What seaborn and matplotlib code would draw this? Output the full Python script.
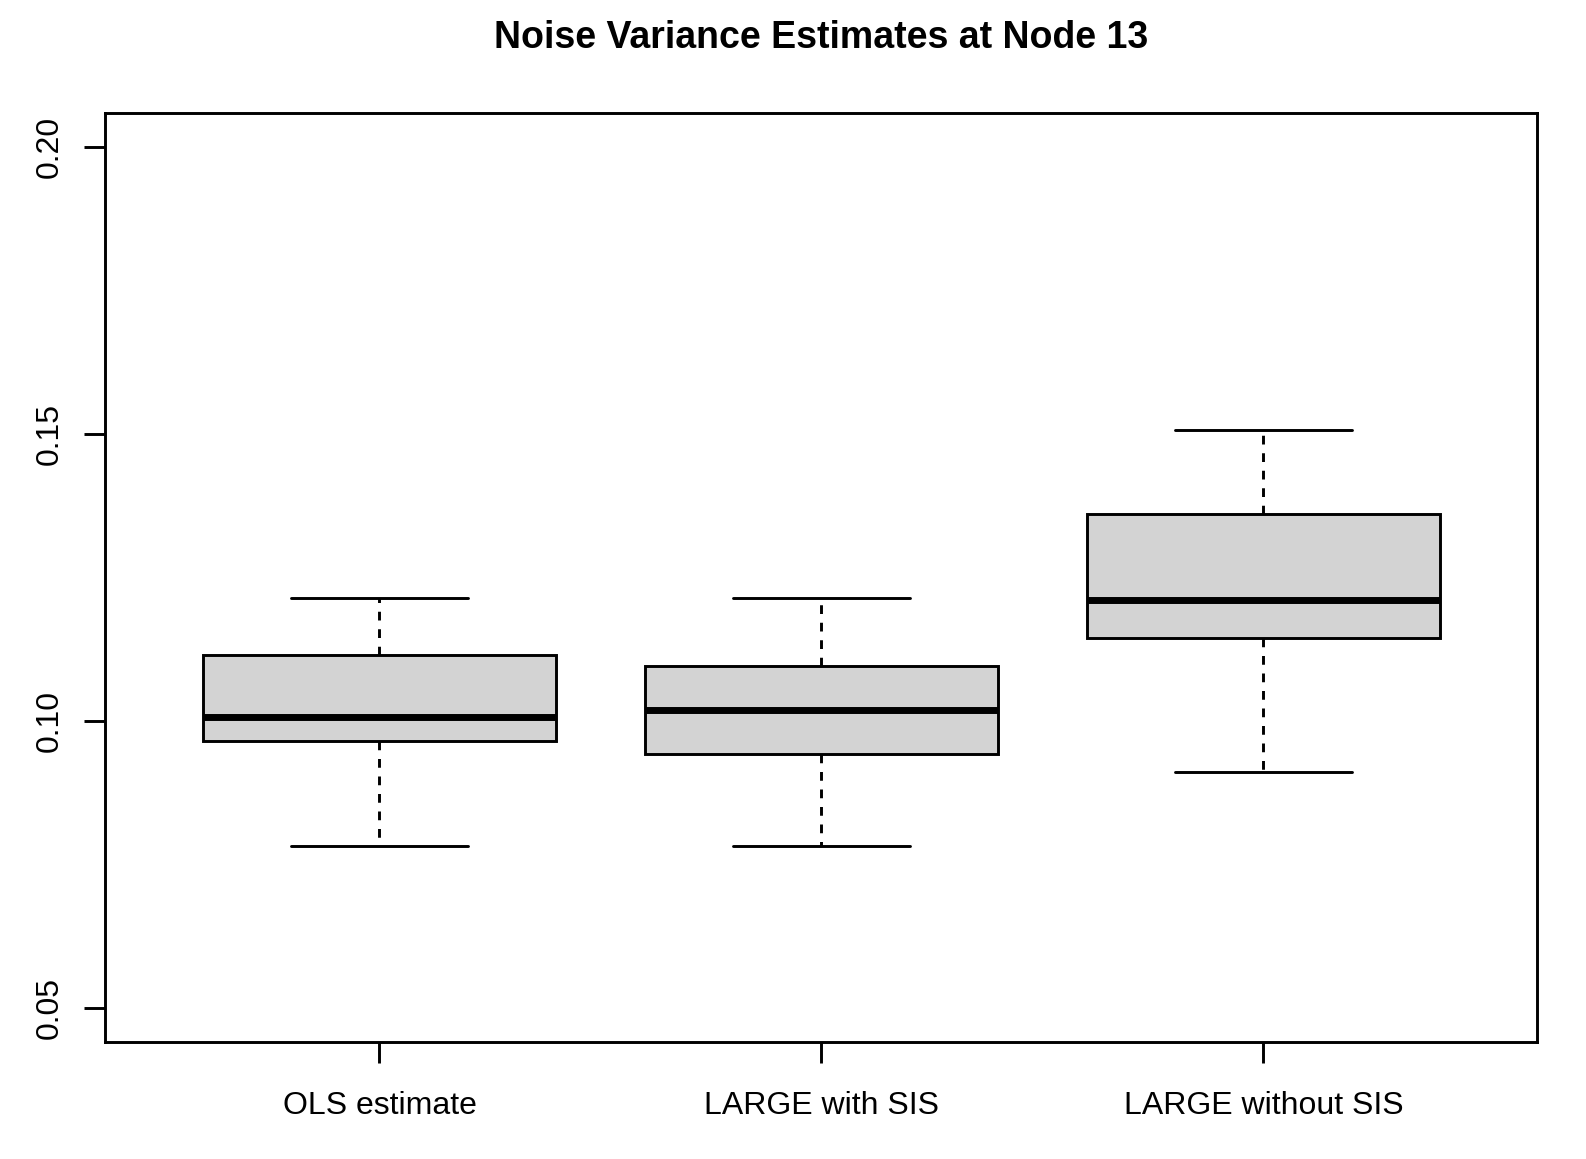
import numpy as np
import pandas as pd
import matplotlib
matplotlib.use("Agg")
import matplotlib.pyplot as plt
import seaborn as sns

# five-number summaries (min, q1, median, q3, max)
methods = ["OLS estimate", "LARGE with SIS", "LARGE without SIS"]
ols_vals = [0.0781, 0.0964, 0.1006, 0.1114, 0.1214]
sis_vals = [0.0781, 0.0942, 0.1018, 0.1095, 0.1214]
nosis_vals = [0.0911, 0.1144, 0.1211, 0.1360, 0.1506]
y_ticks = [0.05, 0.10, 0.15, 0.20]
y_tick_labels = ["0.05", "0.10", "0.15", "0.20"]

df = pd.DataFrame({
    "method": np.repeat(methods, 5),
    "value": ols_vals + sis_vals + nosis_vals,
})

sns.set_theme(style="ticks")
plt.rcParams["font.family"] = ["Liberation Sans", "DejaVu Sans"]

fig = plt.figure(figsize=(15.86, 11.59), dpi=100)
ax_left, ax_width = 0.0665, 0.9029
ax = fig.add_axes([ax_left, 0.1009, ax_width, 0.8019])

lw = 2.1
sns.boxplot(
    data=df, x="method", y="value", order=methods, ax=ax,
    color="#D3D3D3", saturation=1, width=0.8, whis=np.inf,
    linecolor="black", linewidth=lw, fliersize=0,
    medianprops={"linewidth": 5.0, "color": "black"},
    whiskerprops={"linestyle": (0, (3.0, 3.0)), "linewidth": lw, "color": "black"},
    capprops={"linewidth": lw, "color": "black"},
    boxprops={"edgecolor": "black", "linewidth": lw},
)

ax.set_xlim(-0.62, 2.62)
ax.set_ylim(0.044, 0.206)
ax.set_yticks(y_ticks)
ax.set_yticklabels(y_tick_labels, rotation=90, va="center")
ax.set_xlabel("")
ax.set_ylabel("")

for side in ["top", "right", "bottom", "left"]:
    ax.spines[side].set_visible(True)
    ax.spines[side].set_linewidth(lw)
    ax.spines[side].set_color("black")

ax.tick_params(axis="both", length=15, width=lw, color="black",
               labelsize=23, labelcolor="black")
ax.tick_params(axis="x", pad=20)
ax.tick_params(axis="y", pad=14)

# title centred over the plotting region, as R does
fig.text(ax_left + ax_width / 2, 1 - 48 / 1159, "Noise Variance Estimates at Node 13",
         ha="center", va="baseline", fontsize=27, fontweight="bold", color="black")

plt.savefig("out.png", dpi=100)
